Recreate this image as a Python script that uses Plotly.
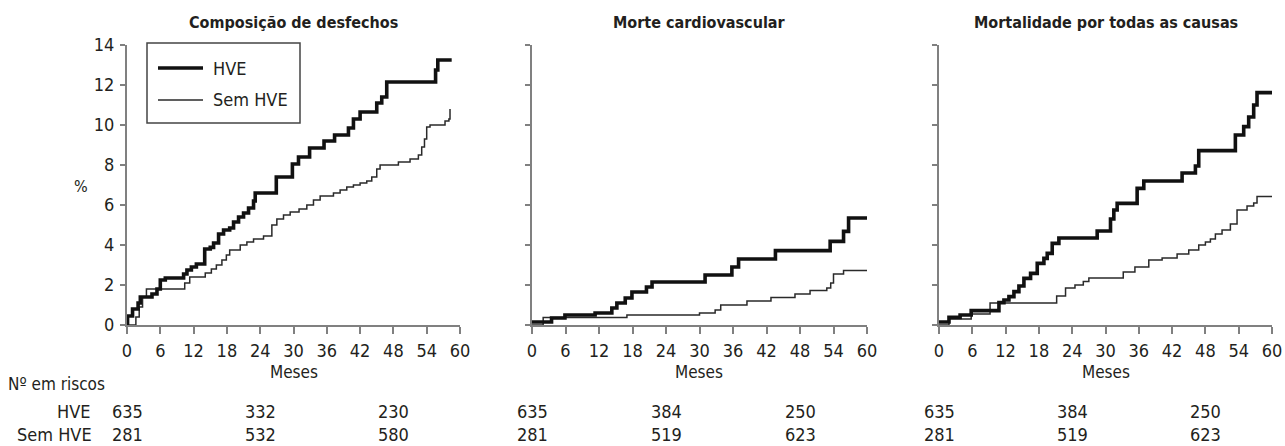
import plotly.graph_objects as go

W, H = 1285, 446
FONT = "Liberation Sans Narrow, DejaVu Sans Condensed, Arial Narrow, sans-serif"
TXT = "#231f20"
AXC = "#808080"

titles = ["Composição de desfechos", "Morte cardiovascular", "Mortalidade por todas as causas"]
series_names = ["HVE", "Sem HVE"]
x_ticks = [0, 6, 12, 18, 24, 30, 36, 42, 48, 54, 60]
y_ticks = [0, 2, 4, 6, 8, 10, 12, 14]
risk_times = [0, 24, 48]
risk_hve = [[635, 332, 230], [635, 384, 250], [635, 384, 250]]
risk_sem = [[281, 532, 580], [281, 519, 623], [281, 519, 623]]

# Panel 1 - Composição de desfechos
p1_hve_t = [0, 0.1, 1.0, 2.0, 2.4, 4.5, 5.4, 6.0, 6.9, 10.2, 10.8, 11.6, 12.5, 14.0, 15.0, 15.6, 16.5, 17.4,
            18.5, 19.2, 20.1, 21.0, 21.9, 22.8, 23.1, 26.9, 29.8, 30.9, 32.9, 35.5, 37.4, 39.9, 40.8, 42.0,
            45.0, 45.9, 46.8, 55.6, 56.0, 58.5]
p1_hve_v = [0, 0.45, 0.8, 1.1, 1.4, 1.55, 1.8, 2.25, 2.35, 2.55, 2.75, 2.9, 3.05, 3.8, 3.88, 4.1, 4.55, 4.75,
            4.85, 5.15, 5.4, 5.6, 5.85, 6.2, 6.6, 7.4, 8.05, 8.4, 8.85, 9.2, 9.5, 9.85, 10.3, 10.65,
            11.1, 11.4, 12.15, 12.75, 13.25, 13.25]
p1_sem_t = [0, 1.6, 2.2, 2.8, 3.5, 10.4, 11.3, 14.1, 15.2, 16.1, 17.1, 17.9, 18.5, 20.4, 21.6, 22.8, 24.6,
            26.1, 27.0, 28.2, 29.4, 31.0, 32.4, 33.6, 34.8, 37.2, 38.4, 39.6, 40.8, 42.0, 43.2, 44.1, 45.0,
            45.6, 48.9, 51.0, 52.5, 53.1, 53.6, 54.0, 54.6, 57.3, 58.0, 58.2]
p1_sem_v = [0, 0.4, 0.9, 1.4, 1.8, 2.1, 2.4, 2.6, 2.8, 3.0, 3.25, 3.5, 3.75, 4.0, 4.15, 4.3, 4.45,
            5.0, 5.3, 5.5, 5.65, 5.8, 6.0, 6.25, 6.45, 6.6, 6.75, 6.9, 7.0, 7.1, 7.2, 7.4, 7.8,
            8.0, 8.15, 8.3, 8.5, 8.9, 9.3, 9.9, 10.0, 10.2, 10.3, 10.8]

# Panel 2 - Morte cardiovascular
p2_hve_t = [0, 3.5, 5.9, 11.3, 14.3, 15.2, 16.7, 17.9, 20.5, 21.5, 31.0, 35.8, 37.0, 43.6, 53.4, 55.8, 56.7, 60]
p2_hve_v = [0.15, 0.35, 0.5, 0.6, 0.85, 1.1, 1.35, 1.65, 1.9, 2.15, 2.5, 2.9, 3.3, 3.72, 4.18, 4.68, 5.35, 5.35]
p2_sem_t = [0, 2.0, 17.0, 30.0, 32.8, 33.8, 38.5, 42.8, 47.1, 49.8, 52.8, 53.5, 54.0, 55.8, 60]
p2_sem_v = [0, 0.38, 0.5, 0.6, 0.75, 1.0, 1.2, 1.38, 1.55, 1.72, 1.85, 2.1, 2.55, 2.72, 2.72]

# Panel 3 - Mortalidade por todas as causas
p3_hve_t = [0, 1.8, 3.8, 5.8, 10.8, 11.7, 12.6, 13.5, 14.4, 15.3, 16.5, 17.7, 18.9, 19.5, 20.4, 21.6, 28.5,
            30.9, 31.5, 32.1, 35.7, 36.9, 43.8, 46.2, 46.8, 53.4, 54.9, 55.8, 56.7, 57.3, 60]
p3_hve_v = [0.15, 0.38, 0.5, 0.72, 1.12, 1.25, 1.42, 1.67, 1.95, 2.33, 2.58, 3.08, 3.33, 3.58, 4.08, 4.35, 4.7,
            5.3, 5.75, 6.08, 6.83, 7.2, 7.6, 7.95, 8.72, 9.5, 9.92, 10.4, 11.0, 11.62, 11.62]
p3_sem_t = [0, 1.8, 5.8, 9.2, 21.2, 22.8, 24.5, 26.0, 27.0, 33.2, 35.3, 37.8, 40.2, 42.9, 45.0, 46.8, 48.0,
            48.9, 49.8, 51.0, 52.5, 53.7, 55.5, 56.7, 57.3, 60]
p3_sem_v = [0, 0.3, 0.55, 1.1, 1.45, 1.85, 2.0, 2.17, 2.35, 2.65, 2.9, 3.25, 3.35, 3.55, 3.75, 4.0, 4.15,
            4.3, 4.55, 4.75, 5.05, 5.75, 5.95, 6.1, 6.42, 6.42]

panels = [
    (p1_hve_t, p1_hve_v, p1_sem_t, p1_sem_v),
    (p2_hve_t, p2_hve_v, p2_sem_t, p2_sem_v),
    (p3_hve_t, p3_hve_v, p3_sem_t, p3_sem_v),
]


def fx(px):
    return px / W


def fy(py):
    return 1 - py / H


x_domains = [(127, 460), (532, 867), (939, 1272)]
y_top, y_bot = 45, 325

fig = go.Figure()
for i, (ht, hv, st, sv) in enumerate(panels):
    ax = "" if i == 0 else str(i + 1)
    fig.add_trace(go.Scatter(x=st, y=sv, mode="lines", line=dict(shape="hv", color="#2a2a2a", width=1.5),
                             name=series_names[1], showlegend=False, xaxis="x" + ax, yaxis="y" + ax))
    fig.add_trace(go.Scatter(x=ht, y=hv, mode="lines", line=dict(shape="hv", color="#111111", width=3.6),
                             name=series_names[0], showlegend=False, xaxis="x" + ax, yaxis="y" + ax))

layout = dict(
    width=W, height=H, margin=dict(l=0, r=0, t=0, b=0, autoexpand=False),
    paper_bgcolor="white", plot_bgcolor="white",
    font=dict(family=FONT, size=18, color=TXT),
    showlegend=False,
)
axis_common = dict(showline=True, linecolor=AXC, linewidth=2, ticks="outside", tickcolor=AXC, tickwidth=2,
                   showgrid=False, zeroline=False, fixedrange=True, automargin=False)
annotations = []
for i in range(3):
    ax = "" if i == 0 else str(i + 1)
    x0, x1 = x_domains[i]
    layout["xaxis" + ax] = dict(axis_common, domain=[fx(x0), fx(x1)], range=[0, 60], tickvals=x_ticks,
                                ticklen=7, ticklabelstandoff=1, anchor="y" + ax)
    layout["yaxis" + ax] = dict(axis_common, domain=[fy(y_bot), fy(y_top)], range=[0, 14], tickvals=y_ticks,
                                ticklen=5, ticklabelstandoff=2, anchor="x" + ax, showticklabels=(i == 0))
    annotations.append(dict(text="<b>" + titles[i] + "</b>", x=fx((x0 + x1) / 2), y=fy(22), xref="paper",
                            yref="paper", showarrow=False, xanchor="center", yanchor="middle",
                            font=dict(size=16)))
    annotations.append(dict(text="Meses", x=fx((x0 + x1) / 2), y=fy(372), xref="paper",
                            yref="paper", showarrow=False, xanchor="center", yanchor="middle",
                            font=dict(size=17)))
    xr = "x" + ax
    for t, a, b in zip(risk_times, risk_hve[i], risk_sem[i]):
        annotations.append(dict(text=str(a), x=t, y=fy(411), xref=xr, yref="paper", showarrow=False,
                                xanchor="center", yanchor="middle", font=dict(size=18)))
        annotations.append(dict(text=str(b), x=t, y=0, xref=xr, yref="paper", showarrow=False,
                                xanchor="center", yanchor="bottom", font=dict(size=18), borderpad=0))

annotations += [
    dict(text="%", x=fx(72), y=fy(186), xref="paper", yref="paper", showarrow=False, font=dict(size=16)),
    dict(text="Nº em riscos", x=fx(6), y=fy(384), xref="paper", yref="paper", showarrow=False,
         xanchor="left", yanchor="middle", font=dict(size=17)),
    dict(text="HVE", x=fx(93), y=fy(411), xref="paper", yref="paper", showarrow=False,
         xanchor="right", yanchor="middle", font=dict(size=18)),
    dict(text="Sem HVE", x=fx(93), y=0, xref="paper", yref="paper", showarrow=False,
         xanchor="right", yanchor="bottom", font=dict(size=18), borderpad=0),
    dict(text=series_names[0], x=fx(211), y=fy(68), xref="paper", yref="paper", showarrow=False,
         xanchor="left", yanchor="middle", font=dict(size=18)),
    dict(text=series_names[1], x=fx(211), y=fy(100), xref="paper", yref="paper", showarrow=False,
         xanchor="left", yanchor="middle", font=dict(size=18)),
]
layout["annotations"] = annotations
layout["shapes"] = [
    dict(type="rect", xref="paper", yref="paper", x0=fx(147), x1=fx(300), y0=fy(123), y1=fy(43),
         line=dict(color="#444444", width=1.5), fillcolor="white", layer="below"),
    dict(type="line", xref="paper", yref="paper", x0=fx(158), x1=fx(203), y0=fy(68), y1=fy(68),
         line=dict(color="#111111", width=3.6)),
    dict(type="line", xref="paper", yref="paper", x0=fx(158), x1=fx(203), y0=fy(100), y1=fy(100),
         line=dict(color="#2a2a2a", width=1.5)),
]
fig.update_layout(**layout)
fig.write_html("out.html")
